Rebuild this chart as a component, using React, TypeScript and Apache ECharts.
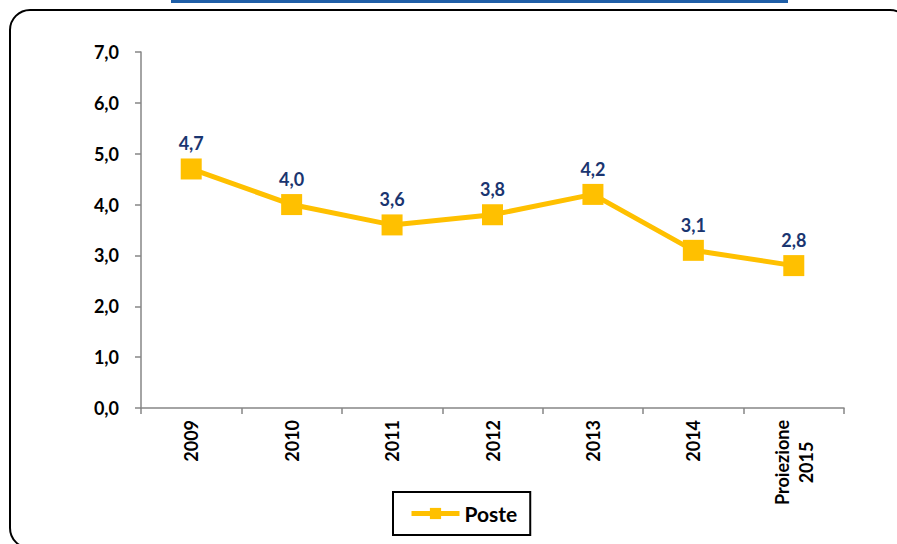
import React, { useEffect, useRef } from "react";
import * as echarts from "echarts";

const categories = ["2009", "2010", "2011", "2012", "2013", "2014", "Proiezione\n2015"];
const posteValues = [4.7, 4.0, 3.6, 3.8, 4.2, 3.1, 2.8];
const seriesName = "Poste";
const yMin = 0;
const yMax = 7;
const yInterval = 1;

const fmt = (v: number) => v.toFixed(1).replace(".", ",");

export default function App() {
  const ref = useRef<HTMLDivElement>(null);
  useEffect(() => {
    if (!ref.current) return;
    const chart = echarts.init(ref.current, null, { renderer: "svg" });
    const font = "Lato, 'Liberation Sans', sans-serif";
    const w = "bold";
    chart.setOption({
      animation: false,
      backgroundColor: "#ffffff",
      textStyle: { fontFamily: font },
      grid: { left: 141, right: 53, top: 52, bottom: 136, containLabel: false },
      graphic: [
        {
          type: "rect",
          shape: { x: 10, y: 10, width: 900, height: 538, r: 20 },
          style: { fill: "none", stroke: "#000000", lineWidth: 2 },
          silent: true,
        },
        {
          type: "rect",
          shape: { x: 171, y: 0, width: 617, height: 3 },
          style: { fill: "#1F5FA8" },
          silent: true,
        },
      ],
      legend: {
        data: [seriesName],
        left: 393,
        top: 492,
        padding: [11, 13, 11, 16],
        borderColor: "#000000",
        borderWidth: 2,
        borderRadius: 0,
        itemWidth: 48,
        itemHeight: 14,
        itemGap: 5,
        lineStyle: { width: 5, color: "#FFC000" },
        textStyle: { fontFamily: font, fontWeight: w, fontSize: 21, color: "#000000" },
      },
      xAxis: {
        type: "category",
        data: categories,
        boundaryGap: true,
        axisLine: { lineStyle: { color: "#868686", width: 1.5 } },
        axisTick: { show: true, length: 6, alignWithLabel: false, lineStyle: { color: "#868686", width: 1.5 } },
        axisLabel: {
          rotate: 90,
          margin: 12,
          interval: 0,
          fontFamily: font,
          fontWeight: w,
          fontSize: 18,
          color: "#000000",
          formatter: (v: string) =>
            v
              .split("\n")
              .map((s) => "{c|" + s + "}")
              .join("\n"),
          rich: {
            c: { align: "center", fontFamily: font, fontWeight: w, fontSize: 18, color: "#000000", lineHeight: 24 },
          },
        },
        splitLine: { show: false },
      },
      yAxis: {
        type: "value",
        min: yMin,
        max: yMax,
        interval: yInterval,
        axisLine: { show: true, lineStyle: { color: "#868686", width: 1.5 } },
        axisTick: { show: true, length: 6, lineStyle: { color: "#868686", width: 1.5 } },
        axisLabel: {
          margin: 22,
          fontFamily: font,
          fontWeight: w,
          fontSize: 18,
          color: "#000000",
          formatter: (v: number) => fmt(v),
        },
        splitLine: { show: false },
      },
      series: [
        {
          name: seriesName,
          type: "line",
          data: posteValues,
          symbol: "rect",
          symbolSize: 21,
          lineStyle: { color: "#FFC000", width: 5 },
          itemStyle: { color: "#FFC000" },
          label: {
            show: true,
            position: "top",
            distance: 6,
            fontFamily: font,
            fontWeight: w,
            fontSize: 18,
            color: "#1A3570",
            formatter: (p: any) => fmt(p.value),
          },
        },
      ],
    });
    return () => chart.dispose();
  }, []);
  return (
    <div
      ref={ref}
      style={{ position: "fixed", left: 0, top: 0, width: 897, height: 544, background: "#fff" }}
    />
  );
}
